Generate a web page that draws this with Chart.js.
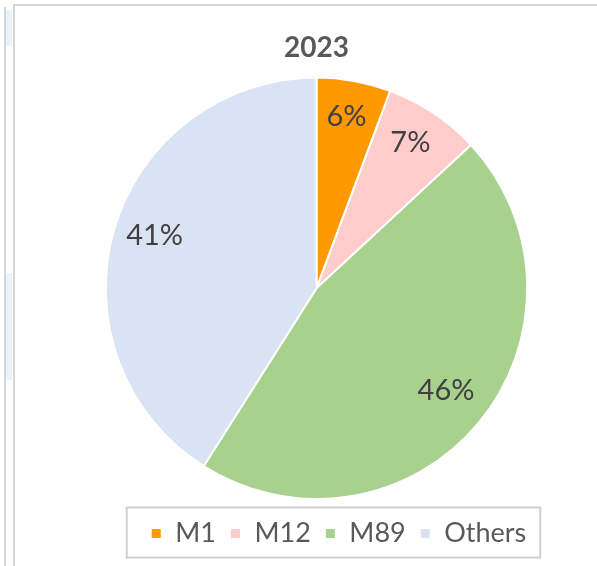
<!DOCTYPE html>
<html>
<head>
<meta charset="utf-8">
<script src="https://cdn.jsdelivr.net/npm/chart.js@4.4.1/dist/chart.umd.min.js"></script>
<style>
  html, body { margin: 0; padding: 0; background: #fff; }
  #wrap { position: relative; width: 597px; height: 566px; overflow: hidden; }
  #chart { position: absolute; left: 0; top: 0; }
  .line { position: absolute; background: #d6d6d6; }
  .tint { position: absolute; background: #e8f4fb; }
</style>
</head>
<body>
<div id="wrap">
  <div class="tint" style="left:6px; top:10px; width:6px; height:36px;"></div>
  <div class="tint" style="left:6px; top:273px; width:6px; height:107px;"></div>
  <div class="line" style="left:4px; top:7px; width:2px; height:559px;"></div>
  <div class="line" style="left:13px; top:4px; width:2px; height:562px;"></div>
  <div class="line" style="left:13px; top:4px; width:584px; height:2px;"></div>
  <canvas id="chart" width="597" height="566"></canvas>
</div>
<script>
const labels = ['M1', 'M12', 'M89', 'Others'];
const shares = [5.7, 7.4, 45.9, 41.0];
const colors = ['#FF9900', '#FFCCCC', '#A9D18E', '#DAE3F3'];
const chartTitle = '2023';

const fontFamily = 'Lato, "Open Sans", sans-serif';

// percentage labels inside each slice
const sliceLabels = {
  id: 'sliceLabels',
  afterDatasetsDraw(chart) {
    const ctx = chart.ctx;
    const data = chart.data.datasets[0].data;
    const total = data.reduce((a, b) => a + b, 0);
    chart.getDatasetMeta(0).data.forEach((arc, i) => {
      const mid = (arc.startAngle + arc.endAngle) / 2;
      const r = arc.outerRadius * 0.8;
      const x = arc.x + Math.cos(mid) * r;
      const y = arc.y + Math.sin(mid) * r - 6;
      ctx.save();
      ctx.font = '29px ' + fontFamily;
      ctx.fillStyle = '#404040';
      ctx.textAlign = 'center';
      ctx.textBaseline = 'middle';
      ctx.fillText(Math.round(data[i] / total * 100) + '%', x, y);
      ctx.restore();
    });
  }
};

// move the legend a little and put a frame round it
const legendBox = {
  id: 'legendBox',
  afterLayout(chart) {
    chart.legend.left += 22;
    chart.legend.right += 22;
    chart.legend.top += 6;
    chart.legend.bottom += 6;
  },
  afterDraw(chart) {
    const boxes = chart.legend.legendHitBoxes;
    if (!boxes.length) return;
    const left = Math.min(...boxes.map(b => b.left));
    const right = Math.max(...boxes.map(b => b.left + b.width));
    const midY = boxes[0].top + boxes[0].height / 2;
    const ctx = chart.ctx;
    ctx.save();
    ctx.strokeStyle = '#cfcfcf';
    ctx.lineWidth = 2;
    ctx.strokeRect(left - 24, midY - 26, right - left + 38, 50);
    ctx.restore();
  }
};

new Chart(document.getElementById('chart'), {
  type: 'pie',
  data: {
    labels: labels,
    datasets: [{
      data: shares,
      backgroundColor: colors,
      borderColor: '#ffffff',
      borderWidth: 2
    }]
  },
  options: {
    responsive: false,
    animation: false,
    layout: { padding: { left: 36, right: 0, top: 0, bottom: 15 } },
    plugins: {
      title: {
        display: true,
        text: chartTitle,
        color: '#595959',
        font: { family: fontFamily, size: 28, weight: 'bold' },
        padding: { top: 31, bottom: 12 }
      },
      legend: {
        position: 'bottom',
        labels: {
          color: '#595959',
          font: { family: fontFamily, size: 27 },
          boxWidth: 11,
          boxHeight: 11,
          padding: 14
        }
      },
      tooltip: { enabled: false }
    }
  },
  plugins: [sliceLabels, legendBox]
});
</script>
</body>
</html>
